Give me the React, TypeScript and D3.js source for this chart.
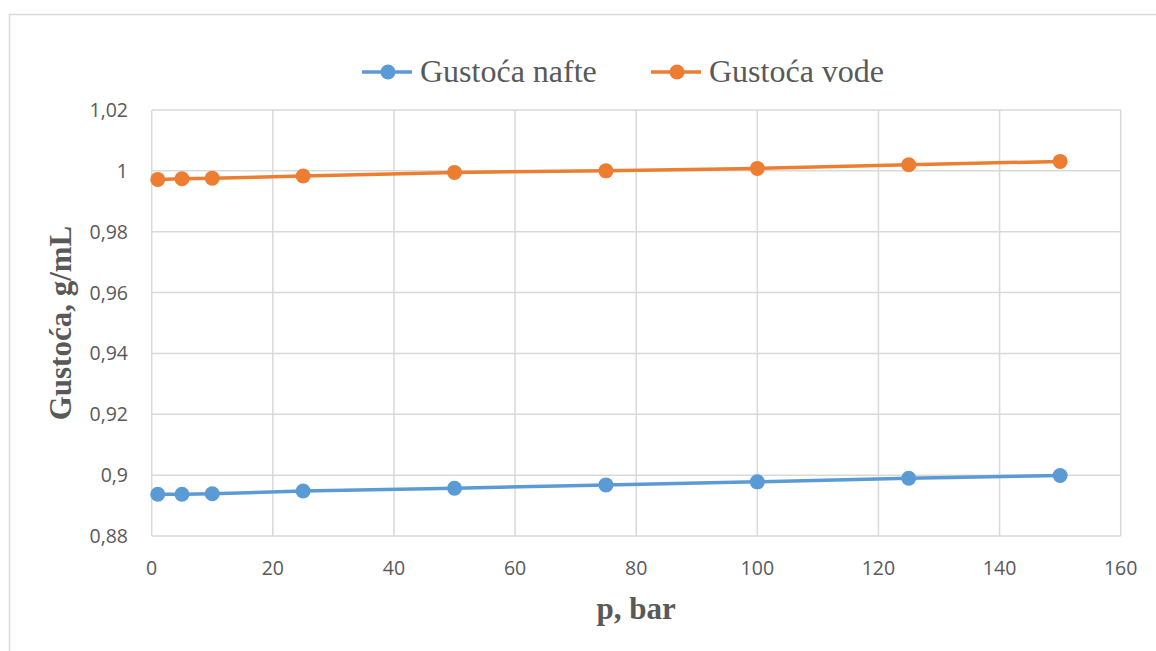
import * as d3 from "d3";
import { useEffect, useRef } from "react";

const pressures = [1, 5, 10, 25, 50, 75, 100, 125, 150];
const oilDensity = [0.8937, 0.8937, 0.8939, 0.8948, 0.8957, 0.8968, 0.8978, 0.899, 0.8999];
const waterDensity = [0.9972, 0.9974, 0.9976, 0.9983, 0.9995, 1.0, 1.0008, 1.002, 1.0031];
const seriesNames = ["Gustoća nafte", "Gustoća vode"];
const seriesColors = ["#5B9BD5", "#ED7D31"];
const xTicks = [0, 20, 40, 60, 80, 100, 120, 140, 160];
const yTicks = [0.88, 0.9, 0.92, 0.94, 0.96, 0.98, 1, 1.02];

const W = 1156;
const H = 651;

const App = () => {
  const ref = useRef<SVGSVGElement | null>(null);

  useEffect(() => {
    if (!ref.current) return;
    const svg = d3.select(ref.current);
    svg.selectAll("*").remove();

    const left = 151.7;
    const right = 1120.7;
    const top = 110;
    const bottom = 536;

    const x = d3.scaleLinear().domain([0, 160]).range([left, right]);
    const y = d3.scaleLinear().domain([0.88, 1.02]).range([bottom, top]);
    const fmt = (v: number) => d3.format("~g")(+v.toFixed(2)).replace(".", ",");

    svg.append("rect").attr("width", W).attr("height", H).attr("fill", "white");
    // outer chart frame (goes off the picture at right/bottom)
    svg
      .append("rect")
      .attr("x", 9.5)
      .attr("y", 14.5)
      .attr("width", W + 20)
      .attr("height", H + 20)
      .attr("fill", "none")
      .attr("stroke", "#D9D9D9")
      .attr("stroke-width", 1.5);

    const grid = svg.append("g").attr("stroke", "#D9D9D9").attr("stroke-width", 1.5);
    grid
      .selectAll("line.v")
      .data(xTicks)
      .join("line")
      .attr("x1", (d) => x(d))
      .attr("x2", (d) => x(d))
      .attr("y1", top)
      .attr("y2", bottom);
    grid
      .selectAll("line.h")
      .data(yTicks)
      .join("line")
      .attr("x1", left)
      .attr("x2", right)
      .attr("y1", (d) => y(d))
      .attr("y2", (d) => y(d));

    const tickFont = "Open Sans, Noto Sans, sans-serif";
    svg
      .append("g")
      .selectAll("text")
      .data(yTicks)
      .join("text")
      .attr("x", 128)
      .attr("y", (d) => y(d) + 7)
      .attr("text-anchor", "end")
      .attr("font-family", tickFont)
      .attr("font-size", 19.5)
      .attr("fill", "#595959")
      .text((d) => fmt(d));

    svg
      .append("g")
      .selectAll("text")
      .data(xTicks)
      .join("text")
      .attr("x", (d) => x(d))
      .attr("y", 575)
      .attr("text-anchor", "middle")
      .attr("font-family", tickFont)
      .attr("font-size", 19.5)
      .attr("fill", "#595959")
      .text((d) => String(d));

    const line = d3
      .line<number>()
      .x((_, i) => x(pressures[i]))
      .y((d) => y(d));

    [oilDensity, waterDensity].forEach((vals, si) => {
      svg
        .append("path")
        .datum(vals)
        .attr("d", line)
        .attr("fill", "none")
        .attr("stroke", seriesColors[si])
        .attr("stroke-width", 3.5)
        .attr("stroke-linejoin", "round");
      svg
        .append("g")
        .selectAll("circle")
        .data(vals)
        .join("circle")
        .attr("cx", (_, i) => x(pressures[i]))
        .attr("cy", (d) => y(d))
        .attr("r", 7.5)
        .attr("fill", seriesColors[si]);
    });

    // legend
    const legendX = [362, 651];
    const legendY = 72;
    seriesNames.forEach((name, i) => {
      const g = svg.append("g").attr("transform", `translate(${legendX[i]},${legendY})`);
      g.append("line")
        .attr("x1", 0)
        .attr("x2", 50)
        .attr("stroke", seriesColors[i])
        .attr("stroke-width", 3.5);
      g.append("circle").attr("cx", 26).attr("r", 7.5).attr("fill", seriesColors[i]);
      g.append("text")
        .attr("x", 58)
        .attr("y", 10)
        .attr("font-family", "Liberation Serif, Times New Roman, serif")
        .attr("font-size", 32)
        .attr("fill", "#595959")
        .text(name);
    });

    svg
      .append("text")
      .attr("x", (left + right) / 2)
      .attr("y", 619)
      .attr("text-anchor", "middle")
      .attr("font-family", "Liberation Serif, Times New Roman, serif")
      .attr("font-weight", "bold")
      .attr("font-size", 31)
      .attr("fill", "#595959")
      .text("p, bar");

    svg
      .append("text")
      .attr("transform", `translate(71,${(top + bottom) / 2}) rotate(-90)`)
      .attr("text-anchor", "middle")
      .attr("font-family", "Liberation Serif, Times New Roman, serif")
      .attr("font-weight", "bold")
      .attr("font-size", 31)
      .attr("fill", "#595959")
      .text("Gustoća, g/mL");
  }, []);

  return (
    <svg
      ref={ref}
      width={W}
      height={H}
      style={{ position: "absolute", left: 0, top: 0 }}
    />
  );
};

export default App;
